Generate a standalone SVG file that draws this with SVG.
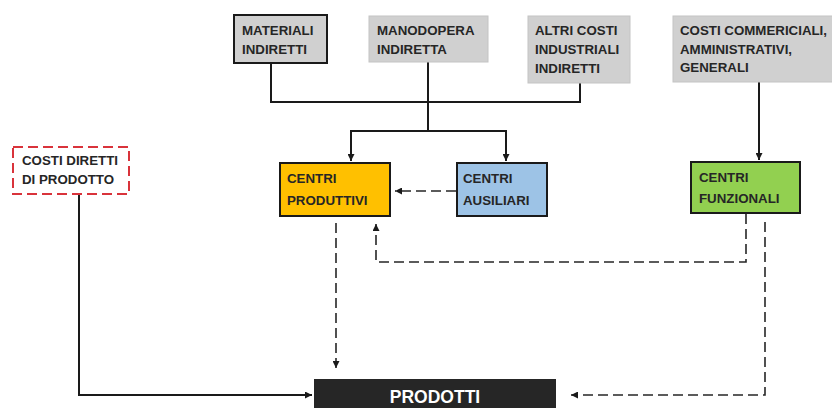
<svg xmlns="http://www.w3.org/2000/svg" width="832" height="408" viewBox="0 0 832 408">
  <defs>
    <marker id="arrow" viewBox="0 0 10 10" refX="10" refY="5" markerWidth="7" markerHeight="7" markerUnits="userSpaceOnUse" orient="auto">
      <path d="M0,0 L10,5 L0,10 Z" fill="#1a1a1a"/>
    </marker>
  </defs>
  <style>
    .lbl { font-family: "Liberation Sans", Arial, sans-serif; font-weight: bold; font-size: 13.3px; fill: #262626; }
    .gray { fill: #d0d0d0; stroke: #c4c4c4; stroke-width: 1; }
    .framed { stroke: #1a1a1a; stroke-width: 2; }
    .solid { fill: none; stroke: #1a1a1a; stroke-width: 2; }
    .dash { fill: none; stroke: #262626; stroke-width: 1.6; stroke-dasharray: 10 5; }
  </style>
  <rect width="832" height="408" fill="#ffffff"/>

  <!-- connectors -->
  <g id="connectors">
    <!-- indirect costs gathered onto the two productive-area centres -->
    <path class="solid" d="M271,63 V102 H580 V83"/>
    <path class="solid" d="M428,62 V131 H351 V161" marker-end="url(#arrow)"/>
    <path class="solid" d="M428,131 H506 V161" marker-end="url(#arrow)"/>
    <!-- commercial / administrative costs to functional centres -->
    <path class="solid" d="M759,82 V160" marker-end="url(#arrow)"/>
    <!-- direct costs straight to products -->
    <path class="solid" d="M79,194 V395 H312" marker-end="url(#arrow)"/>
    <!-- auxiliary to productive -->
    <path class="dash" d="M456,191 H395" marker-end="url(#arrow)"/>
    <!-- productive to products -->
    <path class="dash" d="M336,223 V368" marker-end="url(#arrow)"/>
    <!-- functional back to productive -->
    <path class="dash" d="M746,214 V262 H376 V224" marker-end="url(#arrow)"/>
    <!-- functional to products -->
    <path class="dash" d="M765,222 V395 H571" marker-end="url(#arrow)"/>
  </g>

  <g id="materiali-indiretti">
    <rect class="gray framed" x="234" y="15" width="93" height="48"/>
    <text class="lbl" x="242" y="35">MATERIALI</text>
    <text class="lbl" x="242" y="54">INDIRETTI</text>
  </g>

  <g id="manodopera-indiretta">
    <rect class="gray" x="369" y="16" width="119" height="46"/>
    <text class="lbl" x="377" y="35">MANODOPERA</text>
    <text class="lbl" x="377" y="54">INDIRETTA</text>
  </g>

  <g id="altri-costi">
    <rect class="gray" x="528" y="16" width="102" height="67"/>
    <text class="lbl" x="535" y="35">ALTRI COSTI</text>
    <text class="lbl" x="535" y="54">INDUSTRIALI</text>
    <text class="lbl" x="535" y="73">INDIRETTI</text>
  </g>

  <g id="costi-commerciali">
    <rect class="gray" x="673" y="16" width="165" height="66"/>
    <text class="lbl" x="680" y="35">COSTI COMMERICIALI,</text>
    <text class="lbl" x="680" y="54">AMMINISTRATIVI,</text>
    <text class="lbl" x="680" y="72">GENERALI</text>
  </g>

  <g id="costi-diretti">
    <rect x="13" y="147" width="116" height="47" fill="#ffffff" stroke="#d9333b" stroke-width="2" stroke-dasharray="10 5"/>
    <text class="lbl" x="22" y="165">COSTI DIRETTI</text>
    <text class="lbl" x="22" y="184">DI PRODOTTO</text>
  </g>

  <g id="centri-produttivi">
    <rect class="framed" x="280" y="163" width="110" height="53" fill="#ffc000"/>
    <text class="lbl" x="287" y="183">CENTRI</text>
    <text class="lbl" x="287" y="205">PRODUTTIVI</text>
  </g>

  <g id="centri-ausiliari">
    <rect class="framed" x="457" y="163" width="90" height="53" fill="#9dc3e6"/>
    <text class="lbl" x="463" y="183">CENTRI</text>
    <text class="lbl" x="463" y="205">AUSILIARI</text>
  </g>

  <g id="centri-funzionali">
    <rect class="framed" x="691" y="162" width="109" height="51" fill="#92d050"/>
    <text class="lbl" x="699" y="182">CENTRI</text>
    <text class="lbl" x="699" y="203">FUNZIONALI</text>
  </g>

  <g id="prodotti">
    <rect x="314" y="379" width="242" height="32" fill="#262626"/>
    <text x="435" y="403" text-anchor="middle" font-family="Liberation Sans, Arial, sans-serif" font-weight="bold" font-size="17.5" fill="#ffffff">PRODOTTI</text>
  </g>
</svg>
